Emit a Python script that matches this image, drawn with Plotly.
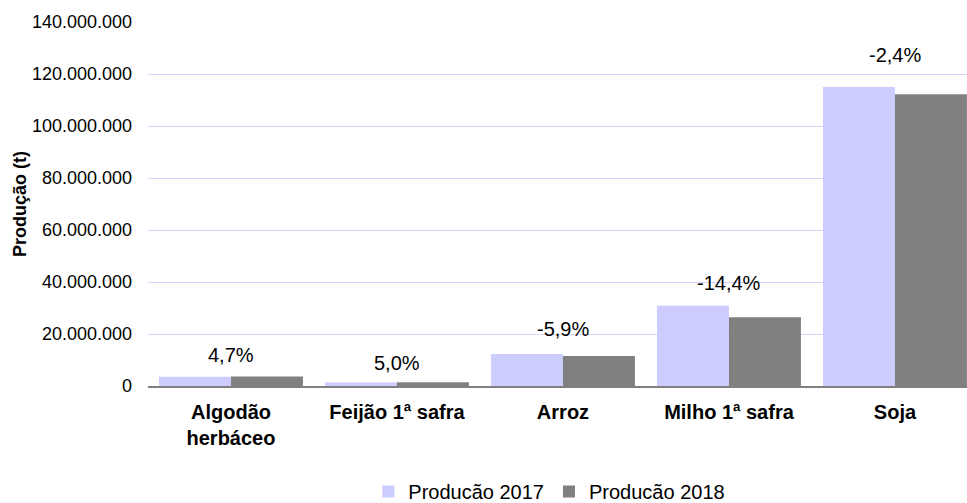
import plotly.graph_objects as go

categories = ["Algodão<br>herbáceo", "Feijão 1ª safra", "Arroz", "Milho 1ª safra", "Soja"]
prod_2017 = [3_530_000, 1_350_000, 12_300_000, 30_900_000, 115_000_000]
prod_2018 = [3_700_000, 1_420_000, 11_580_000, 26_450_000, 112_200_000]
variation_labels = ["4,7%", "5,0%", "-5,9%", "-14,4%", "-2,4%"]
series_names = ["Producão 2017", "Producão 2018"]
y_ticks = [0, 20_000_000, 40_000_000, 60_000_000, 80_000_000, 100_000_000, 120_000_000, 140_000_000]

FONT = "Liberation Sans, Arial, sans-serif"
label_shift = [8, 6, 12, 10, 19]

fig = go.Figure()
fig.add_trace(go.Bar(x=categories, y=prod_2017, name=series_names[0],
                     marker=dict(color="#ccccff", line=dict(width=0))))
fig.add_trace(go.Bar(x=categories, y=prod_2018, name=series_names[1],
                     marker=dict(color="#808080", line=dict(width=0))))

for i, (c, lab) in enumerate(zip(categories, variation_labels)):
    fig.add_annotation(x=c, y=max(prod_2017[i], prod_2018[i]), text=lab,
                       showarrow=False, yanchor="bottom", xanchor="center",
                       yshift=label_shift[i],
                       font=dict(family=FONT, size=20, color="#000000"))

fig.update_layout(
    width=967, height=503,
    margin=dict(l=148, r=0, t=22, b=117, autoexpand=False),
    paper_bgcolor="white", plot_bgcolor="white",
    separators=",.",
    barmode="group", bargap=0.133, bargroupgap=0,
    showlegend=True,
    legend=dict(orientation="h", x=0.49, xanchor="center", y=-0.29, yanchor="middle",
                font=dict(family=FONT, size=20, color="#000000"),
                itemwidth=30, tracegroupgap=0),
    font=dict(family=FONT, color="#000000"),
)
fig.update_xaxes(
    type="category", range=[-0.5, 4.434], automargin=False,
    showgrid=False, showline=True, linecolor="#808080", linewidth=2,
    ticks="", ticklabelstandoff=7,
    tickfont=dict(family=FONT, size=20, color="#000000", weight="bold"),
)
fig.update_yaxes(
    range=[0, 140_000_000], tickvals=y_ticks, tickformat=",.0f", automargin=False,
    showgrid=True, gridcolor="#d4d4fa", gridwidth=1,
    zeroline=False, showline=False, ticks="",
    ticklabelstandoff=15,
    tickfont=dict(family=FONT, size=18, color="#000000"),
    title=dict(text="<b>Produção (t)</b>", standoff=0,
               font=dict(family=FONT, size=18, color="#000000")),
)

fig.write_html("out.html",
               config={"displayModeBar": False},
               post_script="document.body.style.margin='0';document.body.style.overflow='hidden';")
